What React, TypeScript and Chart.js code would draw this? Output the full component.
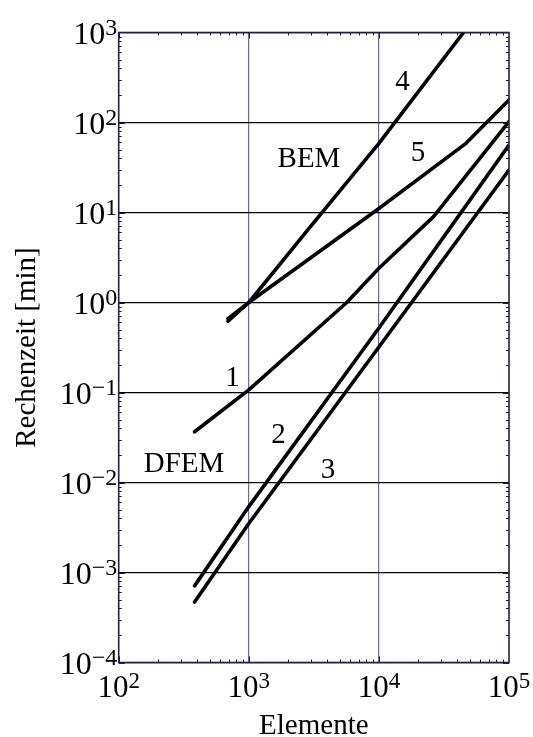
import React, { useEffect, useRef } from "react";
import { Chart, registerables } from "chart.js";
Chart.register(...registerables);

// ---- data ----
const series1X = [383, 1000, 5660, 10000, 26300, 100000];
const series1Y = [0.0366, 0.107, 1.0, 2.4, 9.0, 102];
const series2X = [383, 1000, 10000, 100000];
const series2Y = [0.00071, 0.0054, 0.52, 56];
const series3X = [383, 1000, 10000, 100000];
const series3Y = [0.00047, 0.0035, 0.32, 29.6];
const series4X = [692, 1000, 2840, 10000, 44700];
const series4Y = [0.62, 1.0, 6.4, 58.7, 1000];
const series5X = [692, 1000, 10000, 46700, 100000];
const series5Y = [0.66, 1.0, 11.1, 58.7, 178];

const xTickExponents = [2, 3, 4, 5];
const yTickExponents = [-4, -3, -2, -1, 0, 1, 2, 3];

const labelTexts = ["4", "5", "BEM", "1", "2", "3", "DFEM"];
const labelX = [15200, 19950, 2900, 748, 1690, 4060, 318];
const labelY = [230, 37.7, 32.3, 0.118, 0.0273, 0.0112, 0.0132];

const xTitle = "Elemente";
const yTitle = "Rechenzeit [min]";

const SERIF = '"Liberation Serif", "Times New Roman", serif';

function toPoints(xs: number[], ys: number[]) {
  return xs.map((x, i) => ({ x, y: ys[i] }));
}

function supText(e: number) {
  return e < 0 ? "\u2212" + Math.abs(e) : String(e);
}

const decorPlugin = {
  id: "decor",
  afterDraw(chart: any) {
    const ctx = chart.ctx as CanvasRenderingContext2D;
    const xs = chart.scales.x;
    const ys = chart.scales.y;
    const { left, right, top, bottom } = chart.chartArea;
    ctx.save();

    // minor / major ticks on all four sides
    ctx.strokeStyle = "#1a1a40";
    ctx.lineWidth = 1;
    const xmin = Math.log10(xs.min), xmax = Math.log10(xs.max);
    for (let e = Math.floor(xmin); e < xmax; e++) {
      for (let k = 1; k <= 9; k++) {
        const v = k * Math.pow(10, e);
        if (v < xs.min || v > xs.max) continue;
        const px = Math.round(xs.getPixelForValue(v)) + 0.5;
        const len = k === 1 ? 6 : 3;
        ctx.beginPath();
        ctx.moveTo(px, bottom); ctx.lineTo(px, bottom - len);
        ctx.moveTo(px, top); ctx.lineTo(px, top + len);
        ctx.stroke();
      }
    }
    const ymin = Math.log10(ys.min), ymax = Math.log10(ys.max);
    for (let e = Math.floor(ymin); e < ymax; e++) {
      for (let k = 1; k <= 9; k++) {
        const v = k * Math.pow(10, e);
        if (v < ys.min || v > ys.max) continue;
        const py = Math.round(ys.getPixelForValue(v)) + 0.5;
        const len = k === 1 ? 6 : 3;
        ctx.beginPath();
        ctx.moveTo(left, py); ctx.lineTo(left + len, py);
        ctx.moveTo(right, py); ctx.lineTo(right - len, py);
        ctx.stroke();
      }
    }

    // frame
    ctx.strokeStyle = "#20204a";
    ctx.lineWidth = 1.6;
    ctx.strokeRect(left, top, right - left, bottom - top);

    // tick labels
    ctx.fillStyle = "#000";
    ctx.textBaseline = "alphabetic";
    const mainFont = `32px ${SERIF}`;
    const supFont = `24px ${SERIF}`;
    ctx.textAlign = "left";
    for (const e of yTickExponents) {
      const py = ys.getPixelForValue(Math.pow(10, e));
      ctx.font = mainFont;
      const w10 = ctx.measureText("10").width;
      ctx.font = supFont;
      const s = supText(e);
      const ws = ctx.measureText(s).width;
      const x0 = left - 1.5 - w10 - ws;
      ctx.font = mainFont;
      ctx.fillText("10", x0, py + 11);
      ctx.font = supFont;
      ctx.fillText(s, x0 + w10, py + 2.5);
    }
    const xMain = `31px ${SERIF}`;
    const xSup = `23px ${SERIF}`;
    for (const e of xTickExponents) {
      const px = xs.getPixelForValue(Math.pow(10, e));
      ctx.font = xMain;
      const w10 = ctx.measureText("10").width;
      ctx.font = xSup;
      const s = supText(e);
      const ws = ctx.measureText(s).width;
      const x0 = px - (w10 + ws) / 2;
      ctx.font = xMain;
      ctx.fillText("10", x0, 697);
      ctx.font = xSup;
      ctx.fillText(s, x0 + w10, 688);
    }

    // axis titles
    ctx.font = `29px ${SERIF}`;
    ctx.textAlign = "center";
    ctx.fillText(xTitle, (left + right) / 2, 734);
    ctx.save();
    ctx.translate(35, (top + bottom) / 2);
    ctx.rotate(-Math.PI / 2);
    ctx.fillText(yTitle, 0, 0);
    ctx.restore();

    // curve labels
    ctx.font = `29px ${SERIF}`;
    ctx.textAlign = "center";
    labelTexts.forEach((t, i) => {
      ctx.fillText(t, xs.getPixelForValue(labelX[i]), ys.getPixelForValue(labelY[i]));
    });

    ctx.restore();
  },
};

export default function App() {
  const ref = useRef<HTMLCanvasElement | null>(null);
  useEffect(() => {
    if (!ref.current) return;
    const lineStyle = {
      borderColor: "#000",
      borderWidth: 3.6,
      pointRadius: 0,
      fill: false,
      tension: 0,
      borderCapStyle: "round" as const,
      borderJoinStyle: "round" as const,
    };
    const chart = new Chart(ref.current, {
      type: "line",
      data: {
        datasets: [
          { label: "1", data: toPoints(series1X, series1Y), ...lineStyle },
          { label: "2", data: toPoints(series2X, series2Y), ...lineStyle },
          { label: "3", data: toPoints(series3X, series3Y), ...lineStyle },
          { label: "4", data: toPoints(series4X, series4Y), ...lineStyle },
          { label: "5", data: toPoints(series5X, series5Y), ...lineStyle },
        ],
      },
      options: {
        animation: false,
        responsive: false,
        devicePixelRatio: 1,
        layout: { padding: { left: 118.7, right: 24, top: 32.5, bottom: 74.5 } },
        plugins: { legend: { display: false }, tooltip: { enabled: false } },
        scales: {
          x: {
            type: "logarithmic",
            min: 100,
            max: 100000,
            afterBuildTicks: (s: any) => {
              s.ticks = xTickExponents.map((e) => ({ value: Math.pow(10, e), major: true }));
            },
            ticks: { display: false },
            border: { display: false },
            grid: {
              drawTicks: false,
              lineWidth: 1.2,
              color: (c: any) =>
                c.tick && (c.tick.value === 100 || c.tick.value === 100000)
                  ? "rgba(0,0,0,0)"
                  : "#6868b0",
            },
          },
          y: {
            type: "logarithmic",
            min: 0.0001,
            max: 1000,
            afterBuildTicks: (s: any) => {
              s.ticks = yTickExponents.map((e) => ({ value: Math.pow(10, e), major: true }));
            },
            ticks: { display: false },
            border: { display: false },
            grid: { drawTicks: false, lineWidth: 1.2, color: "#000" },
          },
        },
      },
      plugins: [decorPlugin],
    });
    return () => chart.destroy();
  }, []);
  return (
    <div style={{ position: "fixed", left: 0, top: 0, width: 533, height: 737, background: "#fff" }}>
      <canvas ref={ref} width={533} height={737} style={{ width: 533, height: 737, display: "block" }} />
    </div>
  );
}
